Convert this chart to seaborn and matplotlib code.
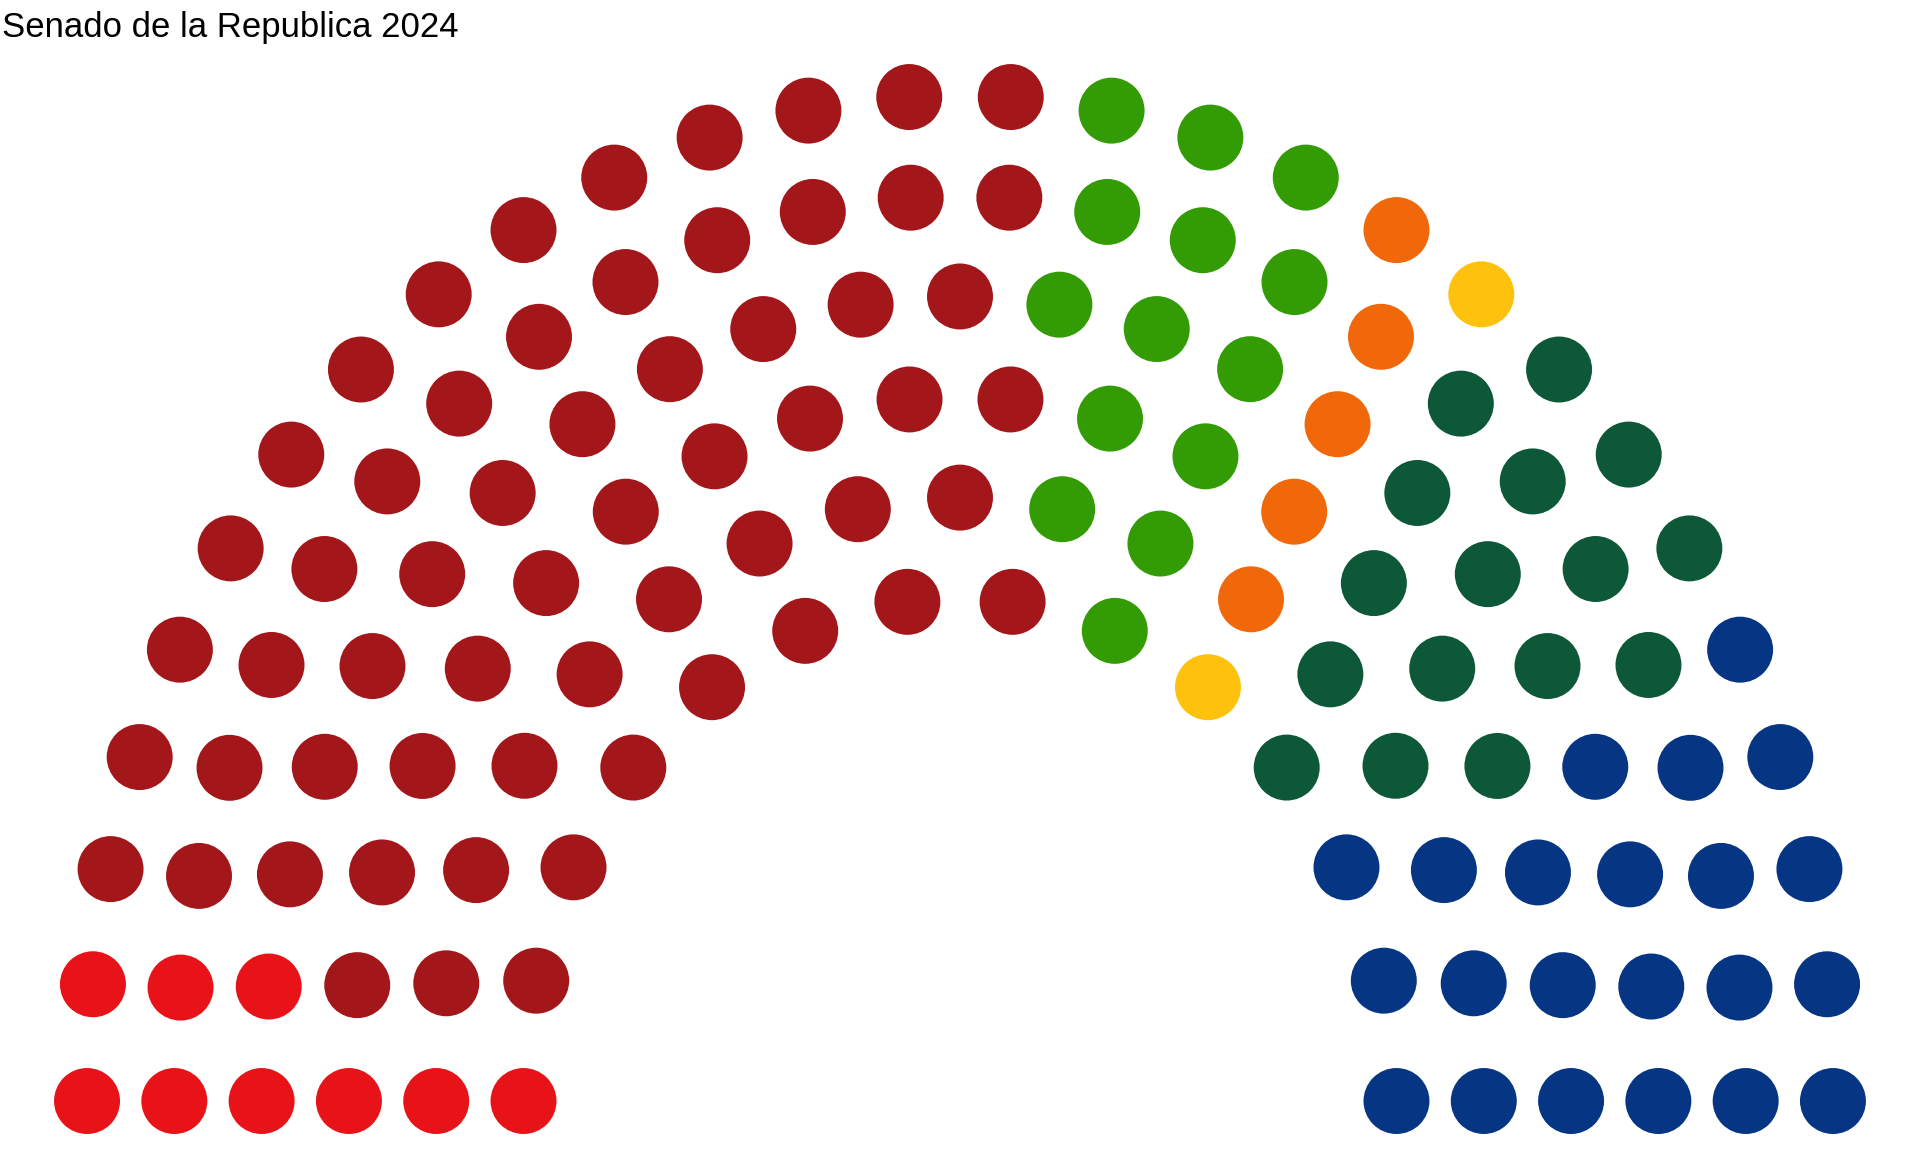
import numpy as np
import pandas as pd
import matplotlib
matplotlib.use("Agg")
import matplotlib.pyplot as plt
import seaborn as sns

# Senate composition (seats per party, left to right)
parties = ["PT", "Morena", "PVEM", "MC", "PRD", "PRI", "PAN"]
seats = [9, 60, 14, 5, 2, 16, 22]
colors = ["#E81318", "#A3161A", "#339C04", "#F0680A", "#FEC20E", "#0D5838", "#063584"]

# seats per ring, inner to outer
ring_sizes = [14, 17, 20, 23, 26, 28]
radii = np.linspace(0.5, 1.0, len(ring_sizes))

# build seat positions
rows = []
for r, n in zip(radii, ring_sizes):
    for a in np.linspace(np.pi, 0, n):
        rows.append((a, r))
df = pd.DataFrame(rows, columns=["angle", "radius"])
df = df.sort_values(["angle", "radius"], ascending=[False, False]).reset_index(drop=True)
df["party"] = np.repeat(parties, seats)
df["x"] = df["radius"] * np.cos(df["angle"])
df["y"] = df["radius"] * np.sin(df["angle"])

sns.set_style("white")
plt.rcParams["font.family"] = ["Liberation Sans", "DejaVu Sans"]

fig = plt.figure(figsize=(19.2, 11.52), dpi=100, facecolor="white")
ax = fig.add_axes([0, 0, 1, 1])

sns.scatterplot(
    data=df, x="x", y="y", hue="party", hue_order=parties,
    palette=dict(zip(parties, colors)), s=2256, linewidth=0,
    legend=False, ax=ax
)

ax.set_xlim(-1.0997, 1.0997)
ax.set_ylim(-0.0507, 1.0948)
ax.axis("off")

fig.text(2 / 1920, 1 - 37 / 1152, "Senado de la Republica 2024",
         fontsize=25, color="black", ha="left", va="baseline")

fig.savefig("out.png", dpi=100, facecolor="white")
